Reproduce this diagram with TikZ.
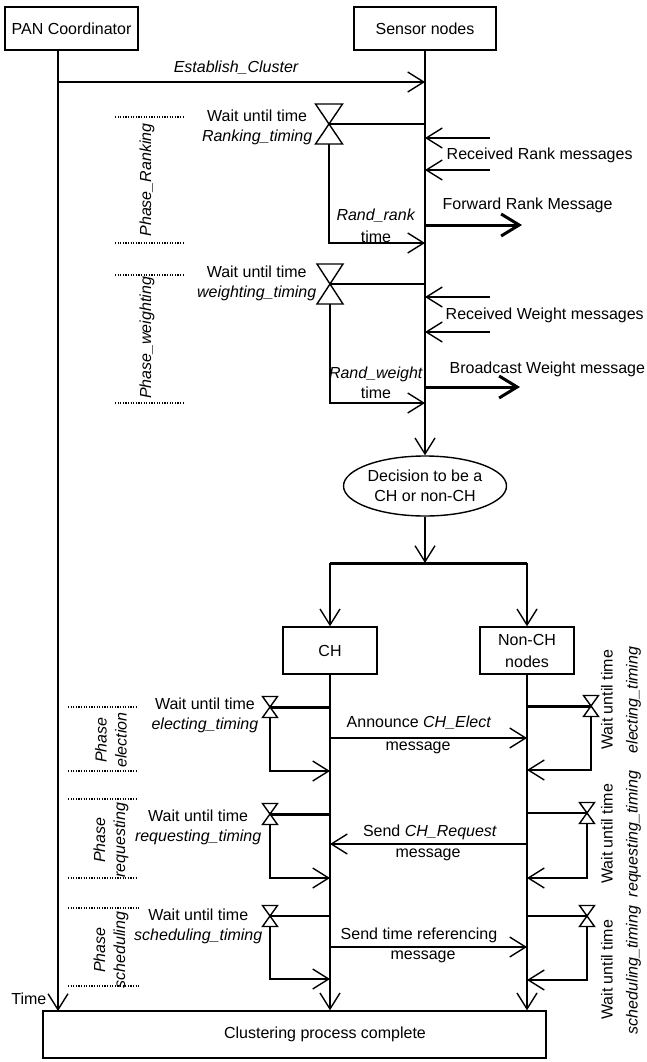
\documentclass[tikz,border=0pt]{standalone}
\usepackage{fontspec}
\setmainfont{Liberation Sans}
\usetikzlibrary{arrows.meta,shapes.geometric,calc}
\tikzset{
  pics/hglass/.style 2 args={code={
    \draw[line width=1.4pt, fill=white, line join=miter] (-#1,-#2) -- (#1,-#2) -- (-#1,#2) -- (#1,#2) -- cycle;}},
}
\begin{document}
\begin{tikzpicture}[x=1pt,y=-1pt, line width=1.4pt,
  every node/.style={font=\fontsize{16}{20}\selectfont, inner sep=0pt},
  box/.style={draw, rectangle, line width=1.4pt},
  tip/.style={-{Straight Barb[length=16pt,width=20pt]}},
  bigtip/.style={line width=3pt, -{Straight Barb[length=18pt,width=22pt]}},
  dots/.style={line width=1.3pt, dash pattern=on 1.2pt off 1.4pt},
  heavy/.style={line width=3pt},
  it/.style={font=\fontsize{16}{20}\selectfont\itshape},
  rot/.style={rotate=90, align=center},
]
\useasboundingbox (0,0) rectangle (647,1062);

% ---------- heads ----------
\node[box, minimum width=133pt, minimum height=43pt] (pan) at (71.5,28.5) {PAN Coordinator};
\node[box, minimum width=142pt, minimum height=43pt] (sen) at (425,28.5) {Sensor nodes};
\node[box, minimum width=503pt, minimum height=47pt] (done) at (294.5,1034.5) {\hspace*{61pt}Clustering process complete};
\node[draw, ellipse, line width=1.4pt, minimum width=163pt, minimum height=60pt, align=center] (dec) at (425,486) {Decision to be a\\CH or non-CH};
\node[box, minimum width=94pt, minimum height=47pt] (ch) at (330,650.5) {CH};
\node[box, minimum width=94pt, minimum height=47pt, align=center] (nch) at (527,650.5) {Non-CH\\[2pt]nodes};

% ---------- PAN lifeline ----------
\coordinate (panTop) at (58,50);
\coordinate (panEnd) at (58,1011);
\draw[tip] (panTop) -- (panEnd);
\node[anchor=east] (timel) at (47,999) {Time};

% ---------- establish ----------
\coordinate (e1) at (58,82);
\draw[tip] (e1) -- (e1 -| sen);
\node[it] (estl) at (236,68) {Establish\_Cluster};

% sensor lifeline
\draw[tip] (sen.south) -- (dec.north);

% ---------- Ranking phase ----------
\draw[dots] (115,117) -- (185,117);
\draw[dots] (115,243) -- (185,243);
\node[rot, it] (pr) at (147,180) {Phase\_Ranking};
\coordinate (hr) at (329,124);
\coordinate (rr) at (425,243);
\draw (hr) -- (hr -| sen);
\draw[tip] (hr) |- (rr);
\pic at (hr) {hglass={13.5}{20}};
\node[anchor=east, align=center] (wr) at (313,127) {Wait until time\\\textit{Ranking\_timing}};
\node[align=center] (rrk) at (376,226) {\textit{Rand\_rank}\\[2pt]time};
\coordinate (rm1) at (490,138);
\coordinate (rm2) at (490,170);
\draw[tip] (rm1) -- (rm1 -| sen);
\draw[tip] (rm2) -- (rm2 -| sen);
\node[anchor=west] (rml) at (446,155) {Received Rank messages};
\coordinate (fr) at (425,225);
\coordinate (frE) at (522,225);
\draw[bigtip] (fr) -- (frE);
\node[anchor=west] (frl) at (442,205) {Forward Rank Message};

% ---------- Weighting phase ----------
\draw[dots] (115,275) -- (185,275);
\draw[dots] (115,403) -- (185,403);
\node[rot, it] (pw) at (147,338) {Phase\_weighting};
\coordinate (hw) at (330,284);
\coordinate (rw) at (425,403);
\draw (hw) -- (hw -| sen);
\draw[tip] (hw) |- (rw);
\pic at (hw) {hglass={13}{20}};
\node[anchor=east, align=center] (ww) at (317,283) {Wait until time\\\textit{weighting\_timing}};
\node[align=center] (rwt) at (376,383) {\textit{Rand\_weight}\\time};
\coordinate (wm1) at (490,297);
\coordinate (wm2) at (490,332);
\draw[tip] (wm1) -- (wm1 -| sen);
\draw[tip] (wm2) -- (wm2 -| sen);
\node[anchor=west] (wml) at (445,315) {Received Weight messages};
\coordinate (bw) at (425,387);
\coordinate (bwE) at (520,387);
\draw[bigtip] (bw) -- (bwE);
\node[anchor=west] (bwl) at (449,369) {Broadcast Weight message};

% ---------- decision split ----------
\coordinate (bm) at (425,563);
\coordinate (bl) at (330,563);
\coordinate (br) at (527,563);
\draw[tip] (dec.south) -- (bm);
\draw[heavy] (bl) -- (br);
\draw[tip] (bl) -- (ch.north);
\draw[tip] (br) -- (nch.north);

% lifelines CH / non-CH
\draw[tip] (ch.south) -- (ch.south |- done.north);
\draw[tip] (nch.south) -- (nch.south |- done.north);

% ---------- Election phase ----------
\draw[dots] (68,707) -- (137,707);
\draw[dots] (68,771) -- (137,771);
\node[rot, it] (pe) at (111,740) {Phase\\election};
\coordinate (he) at (270,707);
\coordinate (ce) at (330,771);
\draw[heavy] (he) -- (he -| ch);
\draw[tip] (he) |- (ce);
\pic at (he) {hglass={7.5}{10.5}};
\node[anchor=east, align=center] (we) at (259,715.5) {Wait until time\\\textit{electing\_timing}};
\coordinate (a1) at (330,738);
\draw[tip] (a1) -- (a1 -| nch);
\node (a1t) at (419,723) {Announce \textit{CH\_Elect}};
\node (a1b) at (418,748) {message};
\coordinate (hre) at (591,706);
\coordinate (nre) at (527,770);
\draw[heavy] (hre -| nch) -- (hre);
\draw[tip] (hre) |- (nre);
\pic at (hre) {hglass={7.5}{10.5}};
\node[rot] (wre) at (621,700) {Wait until time\\[5pt]\textit{electing\_timing}};

% ---------- Requesting phase ----------
\draw[dots] (68,799) -- (137,799);
\draw[dots] (68,878) -- (137,878);
\node[rot, it] (pq) at (111,840) {Phase\\requesting};
\coordinate (hq) at (270,814);
\coordinate (cq) at (330,878);
\draw[heavy] (hq) -- (hq -| ch);
\draw[tip] (hq) |- (cq);
\pic at (hq) {hglass={7.5}{10.5}};
\node[anchor=east, align=center] (wq) at (262,827) {Wait until time\\\textit{requesting\_timing}};
\coordinate (a2) at (527,844);
\draw[tip] (a2) -- (a2 -| ch);
\node (a2t) at (430,832) {Send \textit{CH\_Request}};
\node (a2b) at (428,855) {message};
\coordinate (hrq) at (587,813);
\coordinate (nrq) at (527,878);
\draw (hrq -| nch) -- (hrq);
\draw[tip] (hrq) |- (nrq);
\pic at (hrq) {hglass={7.5}{10.5}};
\node[rot] (wrq) at (621,834) {Wait until time\\[5pt]\textit{requesting\_timing}};

% ---------- Scheduling phase ----------
\draw[dots] (68,908) -- (140,908);
\draw[dots] (68,986) -- (140,986);
\node[rot, it] (ps) at (111,950) {Phase\\scheduling};
\coordinate (hs) at (270,916);
\coordinate (cs) at (330,979);
\draw (hs) -- (hs -| ch);
\draw[tip] (hs) |- (cs);
\pic at (hs) {hglass={7.5}{10.5}};
\node[anchor=east, align=center] (ws) at (263,926.5) {Wait until time\\\textit{scheduling\_timing}};
\coordinate (a3) at (330,947);
\draw[tip] (a3) -- (a3 -| nch);
\node (a3t) at (419,935) {Send time referencing};
\node (a3b) at (423,957) {message};
\coordinate (hrs) at (587,916);
\coordinate (nrs) at (527,980);
\draw (hrs -| nch) -- (hrs);
\draw[tip] (hrs) |- (nrs);
\pic at (hrs) {hglass={7.5}{10.5}};
\node[rot] (wrs) at (621,970) {Wait until time\\[5pt]\textit{scheduling\_timing}};
\end{tikzpicture}
\end{document}
